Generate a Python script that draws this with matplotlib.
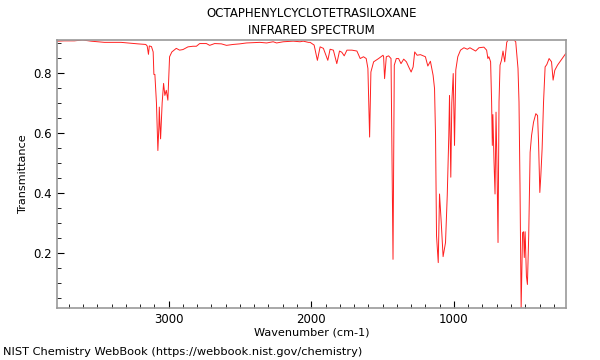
import matplotlib
matplotlib.use("Agg")
import matplotlib.pyplot as plt
from matplotlib.ticker import MultipleLocator

title_lines = ["OCTAPHENYLCYCLOTETRASILOXANE", "INFRARED SPECTRUM"]
x_label = "Wavenumber (cm-1)"
y_label = "Transmittance"
footer = "NIST Chemistry WebBook (https://webbook.nist.gov/chemistry)"

wavenumber = [
    3782, 3731, 3661, 3603, 3544, 3450, 3333, 3216, 3160, 3150, 3141, 3135, 3120, 3108,
    3103, 3096, 3085, 3075, 3068, 3065, 3060, 3056, 3045, 3035, 3026, 3016, 3005, 2993,
    2977, 2946, 2923, 2899, 2876, 2864, 2829, 2805, 2782, 2747, 2735, 2712, 2677, 2630,
    2594, 2548, 2501, 2454, 2360, 2313, 2267, 2243, 2196, 2126, 2079, 2056, 2020, 2008,
    1980, 1957, 1938, 1915, 1884, 1868, 1845, 1821, 1802, 1786, 1769, 1750, 1715, 1680,
    1657, 1634, 1615, 1603, 1591, 1582, 1563, 1528, 1497, 1493, 1486, 1474, 1458, 1441,
    1427, 1418, 1404, 1388, 1371, 1352, 1333, 1317, 1300, 1286, 1275, 1258, 1235, 1200,
    1183, 1165, 1146, 1136, 1129, 1122, 1110, 1101, 1089, 1076, 1059, 1047, 1036, 1031,
    1022, 1015, 1005, 996, 987, 973, 954, 930, 906, 888, 848, 825, 790, 771,
    762, 755, 743, 736, 731, 727, 719, 712, 705, 698, 691, 684, 677, 667,
    656, 644, 630, 621, 579, 567, 551, 544, 537, 529, 519, 512, 507, 501,
    492, 485, 476, 466, 456, 442, 426, 414, 407, 398, 391, 382, 372, 361,
    349, 333, 316, 305, 293, 274, 250, 227, 216,
]
transmittance = [
    0.906, 0.907, 0.907, 0.910, 0.906, 0.902, 0.902, 0.897, 0.895, 0.890, 0.862, 0.890, 0.888, 0.870,
    0.795, 0.795, 0.700, 0.541, 0.620, 0.686, 0.620, 0.580, 0.700, 0.765, 0.725, 0.742, 0.709, 0.854,
    0.870, 0.882, 0.876, 0.878, 0.884, 0.887, 0.889, 0.889, 0.898, 0.898, 0.898, 0.892, 0.898, 0.897,
    0.892, 0.895, 0.897, 0.900, 0.902, 0.900, 0.904, 0.900, 0.904, 0.906, 0.904, 0.906, 0.902, 0.902,
    0.893, 0.842, 0.887, 0.882, 0.842, 0.879, 0.876, 0.831, 0.873, 0.869, 0.857, 0.876, 0.876, 0.873,
    0.848, 0.854, 0.848, 0.815, 0.586, 0.803, 0.837, 0.848, 0.859, 0.854, 0.781, 0.854, 0.857, 0.848,
    0.178, 0.826, 0.848, 0.848, 0.831, 0.846, 0.837, 0.820, 0.803, 0.820, 0.870, 0.859, 0.861, 0.854,
    0.823, 0.839, 0.792, 0.748, 0.591, 0.256, 0.167, 0.396, 0.301, 0.187, 0.234, 0.390, 0.591, 0.725,
    0.452, 0.700, 0.798, 0.558, 0.810, 0.854, 0.876, 0.884, 0.879, 0.884, 0.873, 0.884, 0.886, 0.876,
    0.848, 0.854, 0.837, 0.703, 0.558, 0.661, 0.502, 0.396, 0.669, 0.480, 0.234, 0.703, 0.826, 0.842,
    0.873, 0.837, 0.902, 0.910, 0.910, 0.904, 0.815, 0.703, 0.424, 0.015, 0.267, 0.270, 0.184, 0.270,
    0.122, 0.094, 0.256, 0.535, 0.591, 0.636, 0.664, 0.658, 0.569, 0.401, 0.457, 0.547, 0.703, 0.820,
    0.828, 0.848, 0.837, 0.776, 0.809, 0.826, 0.842, 0.857, 0.865,
]

fig = plt.figure(figsize=(6, 3.6), dpi=100)
ax = fig.add_axes([0.095, 0.144, 0.848, 0.745])
ax.plot(wavenumber, transmittance, color="#ff2020", lw=0.7)
ax.set_xlim(3782, 216)
ax.set_ylim(0.015, 0.91)

ax.xaxis.set_major_locator(MultipleLocator(1000))
ax.xaxis.set_minor_locator(MultipleLocator(100))
ax.yaxis.set_major_locator(MultipleLocator(0.2))
ax.yaxis.set_minor_locator(MultipleLocator(0.05))
ax.tick_params(which="both", direction="in", labelsize=8.5, top=False, right=False)
ax.tick_params(which="major", length=5, width=0.8)
ax.tick_params(which="minor", length=3, width=0.6)
for s in ax.spines.values():
    s.set_color("#999999")
    s.set_linewidth(1.2)

ax.set_xlabel(x_label, fontsize=8.1, labelpad=1)
ax.set_ylabel(y_label, fontsize=8.1, labelpad=4)
fig.text(0.519, 0.963, title_lines[0], ha="center", va="center", fontsize=8.5)
fig.text(0.519, 0.916, title_lines[1], ha="center", va="center", fontsize=8.5)
fig.text(0.005, 0.022, footer, ha="left", va="center", fontsize=8.2)

fig.savefig("out.png", dpi=100)
